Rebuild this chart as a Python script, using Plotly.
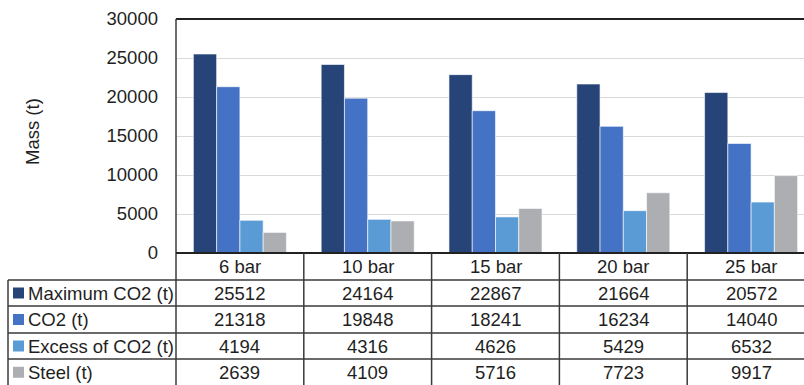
import plotly.graph_objects as go

# Data
categories = ["6 bar", "10 bar", "15 bar", "20 bar", "25 bar"]
series_names = ["Maximum CO2 (t)", "CO2 (t)", "Excess of CO2 (t)", "Steel (t)"]
max_co2 = [25512, 24164, 22867, 21664, 20572]
co2 = [21318, 19848, 18241, 16234, 14040]
excess_co2 = [4194, 4316, 4626, 5429, 6532]
steel = [2639, 4109, 5716, 7723, 9917]
y_ticks = [0, 5000, 10000, 15000, 20000, 25000, 30000]

series_values = [max_co2, co2, excess_co2, steel]
colors = ["#264478", "#4472C4", "#5B9BD5", "#ADAEB1"]

W, H = 804, 385
PL, PT, PB = 176, 19, 253          # plot area left / top / bottom (px)
COL_W = 127.8                      # width of one category column (px)
ROW_EDGES = [253, 280, 306, 333, 359, 385.5]
FONT = "Liberation Sans, Arial, sans-serif"
FS = 18.5
TXT = "#1f1f1f"
LINE = "#3a3a3a"


def px_x(x):
    return (x - PL) / (W - PL)


def px_y(y):
    return (PB - y) / (PB - PT)


fig = go.Figure()
for name, vals, c in zip(series_names, series_values, colors):
    fig.add_trace(go.Bar(x=categories, y=vals, name=name, marker_color=c,
                         marker_line_width=0.6, marker_line_color="white"))

shapes = []
annotations = []

# plot frame: top and left edges
shapes.append(dict(type="line", xref="paper", yref="paper", x0=px_x(PL), x1=1.05,
                   y0=1, y1=1, line=dict(color="#222", width=2)))
shapes.append(dict(type="line", xref="paper", yref="paper", x0=0, x1=0,
                   y0=1, y1=px_y(H + 2), line=dict(color=LINE, width=1.5)))
# axis line at zero
shapes.append(dict(type="line", xref="paper", yref="paper", x0=0, x1=1.05,
                   y0=0, y1=0, line=dict(color="#222", width=2)))

# data table horizontal rules
for y in ROW_EDGES[1:-1]:
    shapes.append(dict(type="line", xref="paper", yref="paper", x0=px_x(8), x1=1.05,
                       y0=px_y(y), y1=px_y(y), line=dict(color=LINE, width=1.5)))
# table left edge
shapes.append(dict(type="line", xref="paper", yref="paper", x0=px_x(8), x1=px_x(8),
                   y0=px_y(ROW_EDGES[1]), y1=px_y(H + 2), line=dict(color=LINE, width=1.5)))
# column separators between categories
for i in range(len(categories)):
    xs = i + 0.5
    shapes.append(dict(type="line", xref="x", yref="paper", x0=xs, x1=xs,
                       y0=0, y1=px_y(H + 2), line=dict(color=LINE, width=1.5)))

# header row: category names
hy = px_y((ROW_EDGES[0] + ROW_EDGES[1]) / 2)
for c in categories:
    annotations.append(dict(x=c, xref="x", y=hy, yref="paper", text=c, showarrow=False,
                            xanchor="center", yanchor="middle",
                            font=dict(family=FONT, size=FS, color=TXT)))

# value rows with legend keys
for r, (name, vals, col) in enumerate(zip(series_names, series_values, colors)):
    cy_px = (ROW_EDGES[r + 1] + ROW_EDGES[r + 2]) / 2
    cy = px_y(cy_px)
    shapes.append(dict(type="rect", xref="paper", yref="paper",
                       x0=px_x(13), x1=px_x(24), y0=px_y(cy_px + 5.5), y1=px_y(cy_px - 5.5),
                       fillcolor=col, line=dict(width=0)))
    annotations.append(dict(x=px_x(26), xref="paper", y=cy, yref="paper", text=name,
                            showarrow=False, xanchor="left", yanchor="middle",
                            font=dict(family=FONT, size=FS, color=TXT)))
    for c, v in zip(categories, vals):
        annotations.append(dict(x=c, xref="x", y=cy, yref="paper", text=str(v),
                                showarrow=False, xanchor="center", yanchor="middle",
                                font=dict(family=FONT, size=FS, color=TXT)))

# y-axis title
annotations.append(dict(x=px_x(32), xref="paper", y=px_y(132), yref="paper", text="Mass (t)",
                        textangle=-90, showarrow=False, xanchor="center", yanchor="middle",
                        font=dict(family=FONT, size=FS, color=TXT)))

x_span = (W - PL) / COL_W
fig.update_layout(
    width=W, height=H,
    margin=dict(l=PL, r=0, t=PT, b=H - PB, autoexpand=False),
    paper_bgcolor="white", plot_bgcolor="white",
    barmode="group", bargap=0.272, bargroupgap=0,
    showlegend=False,
    shapes=shapes, annotations=annotations,
    xaxis=dict(type="category", range=[-0.5, -0.5 + x_span], showticklabels=False,
               showgrid=False, zeroline=False, showline=False, ticks=""),
    yaxis=dict(range=[0, 30000], tickvals=y_ticks, ticktext=[str(v) for v in y_ticks],
               showgrid=True, gridcolor="#D9D9D9", gridwidth=1.3, zeroline=False,
               showline=False, ticks="", ticklabelstandoff=17,
               tickfont=dict(family=FONT, size=FS, color=TXT)),
)

fig.write_html("out.html")
